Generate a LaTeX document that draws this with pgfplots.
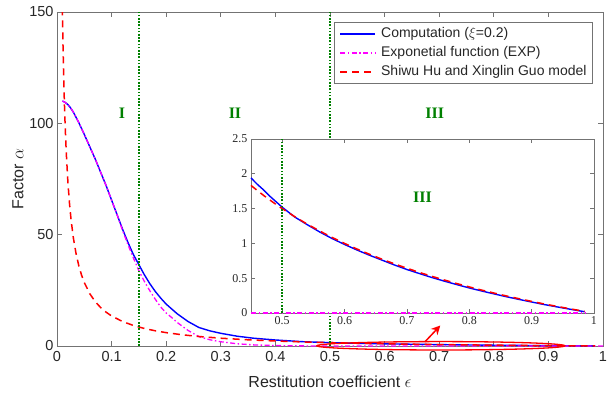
\documentclass[border=0pt]{standalone}
\usepackage{pgfplots}
\pgfplotsset{compat=1.18}
\usepackage{fontspec}
\setmainfont{Liberation Sans}
\newfontfamily\timesfont{Liberation Serif}
\usetikzlibrary{arrows.meta}

\definecolor{cblue}{rgb}{0,0,1}
\definecolor{cmag}{rgb}{1,0,1}
\definecolor{cred}{rgb}{1,0,0}
\definecolor{cgreen}{rgb}{0,0.5,0}
\definecolor{caxis}{gray}{0.45}
\definecolor{ctext}{gray}{0.15}

% Computation (xi = 0.2)
\pgfplotstableread{
e a
0.01 110
0.015 109.4
0.02 108.4
0.025 106.9
0.03 105
0.04 100.3
0.05 95
0.06 89.5
0.07 84
0.08 78
0.09 72
0.10 65.5
0.11 59
0.12 52.5
0.13 46.5
0.14 41
0.15 36.5
0.16 32
0.17 28
0.18 24.5
0.19 21.5
0.20 18.8
0.22 14.5
0.24 11
0.26 8.3
0.28 6.8
0.30 5.7
0.33 4.4
0.36 3.5
0.40 2.7
0.45 1.94
0.46 1.85
0.47 1.77
0.48 1.68
0.49 1.60
0.50 1.52
0.52 1.38
0.54 1.27
0.56 1.165
0.58 1.07
0.60 0.985
0.62 0.905
0.64 0.83
0.66 0.76
0.68 0.69
0.70 0.625
0.72 0.567
0.74 0.51
0.76 0.458
0.78 0.408
0.80 0.36
0.82 0.316
0.84 0.274
0.86 0.233
0.88 0.195
0.90 0.158
0.92 0.122
0.94 0.089
0.96 0.057
0.98 0.026
0.985 0.018
}\comp

% Exponential function (EXP)
\pgfplotstableread{
e a
0.01 110
0.015 109.4
0.02 108.4
0.025 106.9
0.03 105
0.04 100.3
0.05 95
0.06 89.5
0.07 84
0.08 78
0.09 72
0.10 65.5
0.11 59
0.12 52
0.13 45.5
0.14 39.5
0.15 33.8
0.16 29
0.17 24.8
0.18 21
0.19 17.5
0.20 14.8
0.21 12.8
0.22 10.6
0.24 7.0
0.26 4.2
0.28 2.8
0.30 1.9
0.33 1.0
0.36 0.5
0.40 0.2
0.45 0.05
0.50 0
0.60 0
0.70 0
0.80 0
0.90 0
1.00 0
}\expf

% Shiwu Hu and Xinglin Guo model
\pgfplotstableread{
e a
0.0098 151.6
0.011 134.9
0.012 123.5
0.013 113.9
0.014 105.6
0.015 98.5
0.017 86.7
0.020 73.5
0.023 63.7
0.026 56.2
0.030 48.5
0.035 41.36
0.040 36.0
0.045 31.83
0.050 28.5
0.060 23.5
0.070 19.93
0.080 17.25
0.090 15.17
0.10 13.5
0.12 11.0
0.14 9.21
0.16 7.875
0.18 6.833
0.20 6.0
0.23 5.02
0.26 4.269
0.30 3.5
0.35 2.786
0.40 2.25
0.45 1.833
0.46 1.761
0.47 1.691
0.48 1.625
0.49 1.561
0.50 1.5
0.52 1.385
0.54 1.278
0.56 1.179
0.58 1.086
0.60 1.0
0.62 0.919
0.64 0.844
0.66 0.773
0.68 0.706
0.70 0.643
0.72 0.583
0.74 0.527
0.76 0.474
0.78 0.423
0.80 0.375
0.82 0.329
0.84 0.286
0.86 0.244
0.88 0.205
0.90 0.167
0.92 0.130
0.94 0.096
0.96 0.063
0.98 0.031
0.985 0.023
}\hugu

\tikzset{
  compline/.style={cblue, line width=1.4pt},
  expline/.style={cmag, line width=1.3pt, dash pattern=on 5pt off 2.5pt on 1.5pt off 2.5pt},
  huline/.style={cred, line width=1.5pt, dash pattern=on 7pt off 5pt},
  zoneline/.style={cgreen, line width=2pt, dash pattern=on 1.6pt off 1.6pt},
  zonelabel/.style={text=cgreen, font=\timesfont\bfseries\fontsize{16}{16}\selectfont},
}

\begin{document}
\begin{tikzpicture}
\begin{axis}[
  at={(0pt,0pt)}, anchor=south west,
  scale only axis, width=546pt, height=334pt,
  xmin=0, xmax=1, ymin=0, ymax=150,
  xtick={0,0.1,0.2,0.3,0.4,0.5,0.6,0.7,0.8,0.9,1},
  ytick={0,50,100,150},
  tick align=inside, major tick length=5pt,
  axis line style={caxis, line width=0.8pt},
  every tick/.style={caxis, line width=0.8pt},
  /pgf/number format/assume math mode=true,
  tick label style={font=\fontsize{14.5}{14.5}\selectfont, text=ctext},
  xticklabel style={yshift=-2pt},
  label style={font=\fontsize{16}{16}\selectfont, text=ctext},
  xlabel={Restitution coefficient $\epsilon$},
  ylabel={Factor $\alpha$},
  xlabel style={at={(axis description cs:0.5,-0.108)}, anchor=center},
  ylabel style={at={(axis description cs:-0.0714,0.5)}, anchor=center},
  clip mode=individual,
  legend cell align=left,
  legend image code/.code={\draw[#1] (0pt,0pt) -- (35pt,0pt);},
  legend style={at={(axis description cs:1,1)}, anchor=north east,
    xshift=-10pt, yshift=-10pt, draw=caxis, line width=0.8pt,
    font=\fontsize{14}{14}\selectfont, text=ctext,
    inner xsep=5pt, inner ysep=4pt,
    nodes={inner sep=1pt, text height=10pt, text depth=3pt},
    row sep=4pt,
    /tikz/every odd column/.append style={column sep=4pt}},
]
\addplot[compline] table[x=e, y=a] {\comp};
\addlegendentry{Computation ($\xi$=0.2)}
\addplot[expline] table[x=e, y=a] {\expf};
\addlegendentry{Exponetial function (EXP)}
\addplot[huline] table[x=e, y=a] {\hugu};
\addlegendentry{Shiwu Hu and Xinglin Guo model}

\addplot[zoneline, forget plot] coordinates {(0.15,0) (0.15,150)};
\addplot[zoneline, forget plot] coordinates {(0.5,0) (0.5,150)};

\node[zonelabel] at (axis cs:0.119,104.6) {I};
\node[zonelabel] at (axis cs:0.326,104.6) {II};
\node[zonelabel] at (axis cs:0.692,104.6) {III};

\draw[cred, line width=1.3pt] (axis cs:0.703,0.1) ellipse [x radius=124pt, y radius=4.2pt];
\draw[cred, line width=1.5pt, -{Stealth[length=9pt, width=9pt]}]
  (axis cs:0.674,1.9) -- (axis cs:0.702,9.2);
\end{axis}

% zoomed view of region III
\begin{axis}[
  at={(194pt,33pt)}, anchor=south west,
  scale only axis, width=343pt, height=174pt,
  xmin=0.45, xmax=1, ymin=0, ymax=2.5,
  xtick={0.5,0.6,0.7,0.8,0.9,1},
  ytick={0,0.5,1,1.5,2,2.5},
  tick align=inside, major tick length=4pt,
  axis background/.style={fill=white},
  axis line style={caxis, line width=0.8pt},
  every tick/.style={caxis, line width=0.8pt},
  /pgf/number format/assume math mode=true,
  tick label style={font=\timesfont\fontsize{12}{12}\selectfont, text=ctext},
  clip=false,
]
\addplot[compline] table[x=e, y=a, restrict x to domain=0.45:1] {\comp};
\addplot[huline] table[x=e, y=a, restrict x to domain=0.45:1] {\hugu};
\addplot[expline] coordinates {(0.45,0) (0.6,0) (0.8,0) (0.985,0)};
\addplot[zoneline] coordinates {(0.5,0) (0.5,2.5)};
\node[zonelabel] at (axis cs:0.725,1.67) {III};
\end{axis}

\pgfresetboundingbox
\path[use as bounding box] (-57pt,-46pt) rectangle (551pt,346pt);
\end{tikzpicture}
\end{document}
